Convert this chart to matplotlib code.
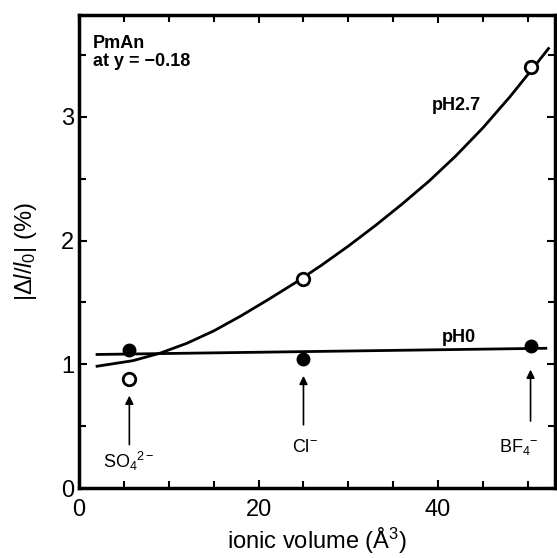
import matplotlib
matplotlib.use("Agg")
import matplotlib.pyplot as plt
from matplotlib.ticker import MultipleLocator

plt.rcParams["font.family"] = ["Liberation Sans", "DejaVu Sans"]
plt.rcParams["mathtext.fontset"] = "custom"
plt.rcParams["mathtext.rm"] = "Liberation Sans"
plt.rcParams["mathtext.it"] = "Liberation Sans:italic"

# ion volumes (A^3) and strain values
ions = ["SO$_4$$^{2-}$", "Cl$^{-}$", "BF$_4$$^{-}$"]
ion_vol = [5.6, 25.0, 50.3]
ph27_vals = [0.88, 1.69, 3.40]
ph0_vals = [1.12, 1.04, 1.15]

# guide curves
curve27_x = [2, 6, 9, 12, 15, 18, 21, 24, 27, 30, 33, 36, 39, 42, 45, 48, 51, 52.3]
curve27_y = [0.985, 1.03, 1.09, 1.17, 1.27, 1.39, 1.52, 1.655, 1.80, 1.955,
             2.12, 2.295, 2.48, 2.685, 2.91, 3.16, 3.43, 3.55]
line0_x = [2, 52]
line0_y = [1.08, 1.13]

# label positions under the arrows
label_y = [0.22, 0.33, 0.33]
label_x = [5.6, 25.2, 49.0]
arrow_tail = [0.33, 0.49, 0.52]
arrow_head = [0.77, 0.93, 0.98]

fig = plt.figure(figsize=(5.57, 5.58), dpi=100)
ax = fig.add_axes([0.142, 0.125, 0.854, 0.848])

ax.plot(curve27_x, curve27_y, color="black", lw=2.0)
ax.plot(line0_x, line0_y, color="black", lw=2.0)
ax.plot(ion_vol, ph27_vals, "o", ms=9, mfc="white", mec="black", mew=2)
ax.plot(ion_vol, ph0_vals, "o", ms=9, mfc="black", mec="black")

for name, x, ly, lx, t, h in zip(ions, ion_vol, label_y, label_x, arrow_tail, arrow_head):
    ax.annotate("", xy=(x, h), xytext=(x, t),
                arrowprops=dict(arrowstyle="-|>", color="black", lw=1.2, mutation_scale=12))
    ax.text(lx, ly, name, ha="center", va="center", fontsize=13)

ax.text(1.55, 3.66, "PmAn\nat y = \u22120.18", ha="left", va="top",
        fontsize=13, fontweight="bold", linespacing=1.05)
ax.text(42.0, 3.09, "pH2.7", ha="center", va="center", fontsize=13, fontweight="bold")
ax.text(42.3, 1.22, "pH0", ha="center", va="center", fontsize=13, fontweight="bold")

ax.set_xlim(0, 53)
ax.set_ylim(0, 3.82)
ax.xaxis.set_major_locator(MultipleLocator(20))
ax.xaxis.set_minor_locator(MultipleLocator(5))
ax.yaxis.set_major_locator(MultipleLocator(1))
ax.yaxis.set_minor_locator(MultipleLocator(0.5))
ax.tick_params(which="both", direction="in", top=True, right=True, width=1.5,
               labelsize=17)
ax.tick_params(which="major", length=6)
ax.tick_params(which="minor", length=5)
ax.tick_params(axis="x", pad=8)
for s in ax.spines.values():
    s.set_linewidth(2.5)

ax.set_xlabel("ionic volume (\u00c5$^3$)", fontsize=17)
ax.set_ylabel(r"$|\Delta \mathit{l}/\mathit{l}_{\mathit{0}}|$ (%)", fontsize=17)
ax.xaxis.set_label_coords(0.5, -0.08)
ax.yaxis.set_label_coords(-0.085, 0.5)

fig.savefig("out.png", dpi=100)
